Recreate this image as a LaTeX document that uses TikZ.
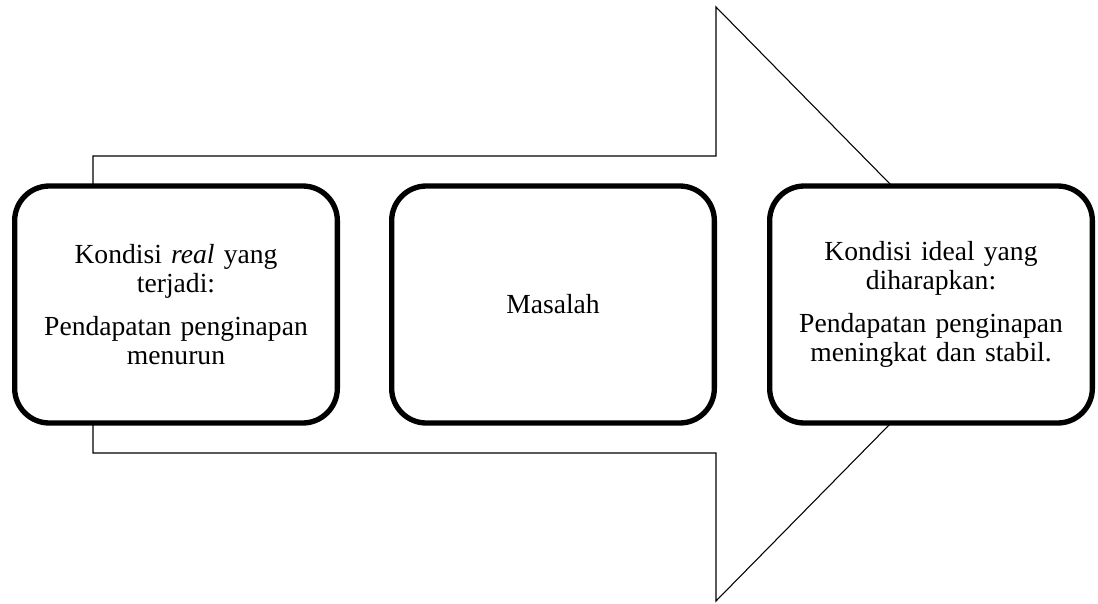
\documentclass[tikz,border=0pt]{standalone}
\usepackage{fontspec}
\setmainfont{Liberation Serif}
\begin{document}
\begin{tikzpicture}[x=0.75pt,y=-0.75pt,
  box/.style={draw, line width=4pt, rounded corners=26pt, fill=white,
    minimum width=242pt, minimum height=177.75pt, inner sep=0pt,
    text width=235pt, align=center,
    font=\fontsize{20.7}{22}\selectfont},
  arrowshape/.style={draw, line width=0.8pt, line join=miter}]
\useasboundingbox (0,0) rectangle (1098,603);
\coordinate (s1) at (93,156);
\coordinate (s2) at (716,156);
\coordinate (h1) at (716,7);
\coordinate (tip) at (1008,304);
\coordinate (h2) at (716,601);
\coordinate (s3) at (716,453);
\coordinate (s4) at (93,453);
\draw[arrowshape] (s1) -- (s2) -- (h1) -- (tip) -- (h2) -- (s3) -- (s4) -- cycle;
\node[box] (real) at (176,304.5) {Kondisi \textit{real} yang\\ terjadi:\\[10pt] Pendapatan penginapan\\ menurun};
\node[box] (masalah) at (553,304.5) {Masalah};
\node[box] (ideal) at (931,304.5) {Kondisi ideal yang\\ diharapkan:\\[10pt] Pendapatan penginapan\\ meningkat dan stabil.};
\end{tikzpicture}
\end{document}
